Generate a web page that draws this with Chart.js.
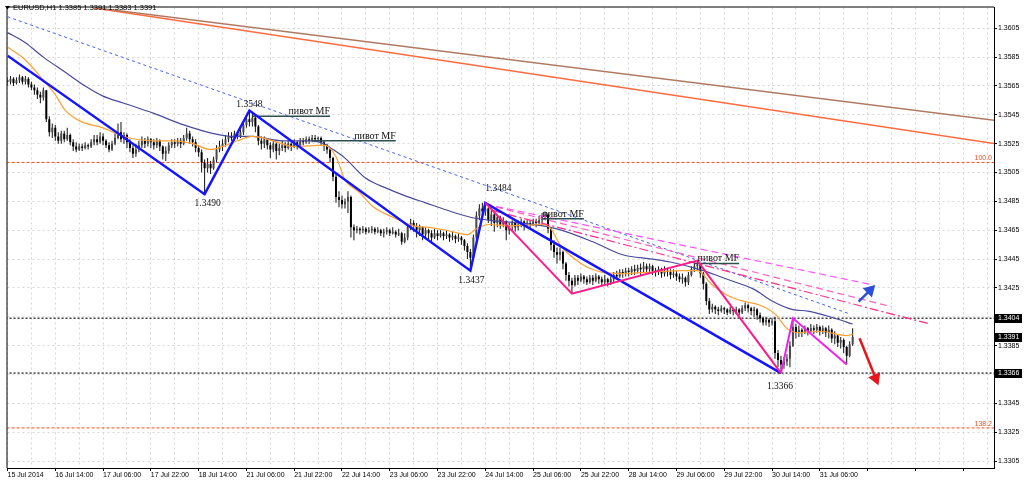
<!DOCTYPE html>
<html><head><meta charset="utf-8">
<script src="https://cdn.jsdelivr.net/npm/chart.js@4.4.1/dist/chart.umd.min.js"></script>
<style>html,body{margin:0;padding:0;background:#fff;}canvas{display:block;}</style>
</head><body>
<canvas id="c" width="1024" height="482"></canvas>
<script>
// ---- data (EURUSD H1, bar index 0 = 15 Jul 22:00) ----
const chartTitle = 'EURUSD,H1 1.3385 1.3391 1.3383 1.3391';
const xTickLabels = ['15 Jul 2014','16 Jul 14:00','17 Jul 06:00','17 Jul 22:00','18 Jul 14:00','21 Jul 06:00','21 Jul 22:00','22 Jul 14:00','23 Jul 06:00','23 Jul 22:00','24 Jul 14:00','25 Jul 06:00','25 Jul 22:00','28 Jul 14:00','29 Jul 06:00','29 Jul 22:00','30 Jul 14:00','31 Jul 06:00'];
const yTickValues = [1.3305,1.3325,1.3345,1.3365,1.3385,1.3405,1.3425,1.3445,1.3465,1.3485,1.3505,1.3525,1.3545,1.3565,1.3585,1.3605];

const opens = [
1.3569,1.3568,1.3570,1.3567,1.3569,1.3571,1.3568,1.3570,1.3566,1.3564,
1.3562,1.3559,1.3557,1.3562,1.3542,1.3533,1.3536,1.3530,1.3527,1.3532,
1.3528,1.3531,1.3526,1.3523,1.3521,1.3523,1.3522,1.3524,1.3523,1.3526,
1.3528,1.3526,1.3530,1.3527,1.3524,1.3521,1.3525,1.3529,1.3533,1.3528,
1.3531,1.3526,1.3522,1.3518,1.3521,1.3524,1.3527,1.3525,1.3528,1.3526,
1.3524,1.3527,1.3523,1.3518,1.3520,1.3524,1.3526,1.3525,1.3527,1.3525,
1.3529,1.3532,1.3528,1.3526,1.3522,1.3519,1.3512,1.3508,1.3511,1.3508,
1.3514,1.3521,1.3523,1.3525,1.3528,1.3530,1.3529,1.3532,1.3530,1.3533,
1.3538,1.3542,1.3540,1.3543,1.3537,1.3527,1.3525,1.3528,1.3524,1.3521,
1.3525,1.3520,1.3522,1.3524,1.3522,1.3525,1.3523,1.3526,1.3524,1.3527,
1.3526,1.3528,1.3527,1.3529,1.3528,1.3529,1.3526,1.3524,1.3521,1.3515,
1.3502,1.3488,1.3486,1.3483,1.3485,1.3488,1.3467,1.3465,1.3466,1.3465,
1.3466,1.3464,1.3465,1.3466,1.3464,1.3465,1.3463,1.3464,1.3465,1.3463,
1.3464,1.3462,1.3463,1.3457,1.3460,1.3467,1.3470,1.3468,1.3465,1.3467,
1.3462,1.3465,1.3463,1.3460,1.3463,1.3461,1.3463,1.3461,1.3462,1.3460,
1.3461,1.3459,1.3460,1.3458,1.3454,1.3450,1.3446,1.3460,1.3475,1.3480,
1.3478,1.3480,1.3472,1.3476,1.3470,1.3474,1.3469,1.3471,1.3465,1.3468,
1.3470,1.3467,1.3469,1.3471,1.3468,1.3470,1.3469,1.3471,1.3470,1.3472,
1.3475,1.3476,1.3466,1.3455,1.3450,1.3448,1.3450,1.3442,1.3434,1.3430,
1.3427,1.3432,1.3430,1.3433,1.3431,1.3429,1.3432,1.3430,1.3433,1.3431,
1.3429,1.3431,1.3429,1.3431,1.3434,1.3433,1.3436,1.3435,1.3437,1.3436,
1.3438,1.3437,1.3439,1.3438,1.3440,1.3438,1.3440,1.3437,1.3436,1.3438,
1.3435,1.3437,1.3436,1.3434,1.3435,1.3433,1.3431,1.3432,1.3429,1.3434,
1.3438,1.3440,1.3441,1.3435,1.3428,1.3416,1.3410,1.3412,1.3410,1.3409,
1.3411,1.3410,1.3408,1.3410,1.3409,1.3410,1.3408,1.3411,1.3413,1.3411,
1.3409,1.3410,1.3406,1.3404,1.3401,1.3403,1.3401,1.3402,1.3380,1.3375,
1.3372,1.3374,1.3376,1.3385,1.3398,1.3394,1.3396,1.3394,1.3397,1.3395,
1.3397,1.3396,1.3398,1.3395,1.3397,1.3394,1.3396,1.3390,1.3392,1.3387,
1.3389,1.3384,1.3378,1.3386];
const highs = [
1.3571,1.3572,1.3571,1.3571,1.3573,1.3572,1.3572,1.3571,1.3568,1.3566,
1.3564,1.3561,1.3564,1.3562,1.3544,1.3539,1.3538,1.3533,1.3534,1.3534,
1.3536,1.3532,1.3528,1.3526,1.3525,1.3525,1.3526,1.3525,1.3528,1.3531,
1.3531,1.3533,1.3532,1.3528,1.3526,1.3527,1.3532,1.3539,1.3540,1.3533,
1.3532,1.3528,1.3524,1.3525,1.3527,1.3530,1.3529,1.3530,1.3529,1.3528,
1.3529,1.3528,1.3524,1.3523,1.3526,1.3528,1.3528,1.3529,1.3529,1.3531,
1.3536,1.3534,1.3530,1.3528,1.3524,1.3521,1.3514,1.3515,1.3513,1.3516,
1.3524,1.3527,1.3528,1.3531,1.3533,1.3533,1.3534,1.3533,1.3535,1.3540,
1.3545,1.3548,1.3546,1.3545,1.3538,1.3530,1.3530,1.3529,1.3526,1.3527,
1.3526,1.3525,1.3527,1.3526,1.3527,1.3526,1.3528,1.3527,1.3529,1.3529,
1.3530,1.3530,1.3531,1.3531,1.3530,1.3530,1.3527,1.3525,1.3522,1.3516,
1.3504,1.3492,1.3489,1.3487,1.3492,1.3489,1.3469,1.3468,1.3467,1.3468,
1.3467,1.3467,1.3468,1.3467,1.3467,1.3466,1.3466,1.3467,1.3466,1.3467,
1.3465,1.3466,1.3464,1.3463,1.3469,1.3473,1.3472,1.3470,1.3469,1.3468,
1.3467,1.3466,1.3465,1.3466,1.3465,1.3465,1.3464,1.3465,1.3463,1.3464,
1.3462,1.3463,1.3461,1.3459,1.3456,1.3452,1.3462,1.3478,1.3483,1.3484,
1.3484,1.3481,1.3479,1.3478,1.3476,1.3475,1.3474,1.3472,1.3470,1.3472,
1.3471,1.3472,1.3473,1.3472,1.3472,1.3472,1.3473,1.3473,1.3475,1.3477,
1.3478,1.3477,1.3467,1.3458,1.3453,1.3453,1.3451,1.3443,1.3436,1.3432,
1.3434,1.3434,1.3435,1.3434,1.3433,1.3434,1.3434,1.3435,1.3434,1.3433,
1.3434,1.3432,1.3433,1.3436,1.3437,1.3438,1.3438,1.3439,1.3439,1.3440,
1.3441,1.3441,1.3442,1.3443,1.3442,1.3442,1.3441,1.3439,1.3440,1.3439,
1.3440,1.3439,1.3438,1.3438,1.3437,1.3435,1.3435,1.3433,1.3436,1.3440,
1.3443,1.3444,1.3442,1.3436,1.3429,1.3418,1.3414,1.3413,1.3412,1.3413,
1.3412,1.3411,1.3412,1.3411,1.3412,1.3411,1.3413,1.3415,1.3414,1.3412,
1.3412,1.3411,1.3408,1.3405,1.3405,1.3404,1.3404,1.3405,1.3382,1.3378,
1.3377,1.3379,1.3388,1.3404,1.3400,1.3399,1.3397,1.3399,1.3398,1.3400,
1.3399,1.3400,1.3399,1.3399,1.3398,1.3399,1.3397,1.3395,1.3393,1.3391,
1.3390,1.3385,1.3388,1.3397];
const lows = [
1.3565,1.3566,1.3565,1.3566,1.3567,1.3566,1.3566,1.3564,1.3562,1.3559,
1.3556,1.3553,1.3555,1.3540,1.3530,1.3529,1.3527,1.3525,1.3525,1.3526,
1.3527,1.3524,1.3520,1.3519,1.3520,1.3520,1.3521,1.3521,1.3522,1.3524,
1.3524,1.3525,1.3524,1.3522,1.3519,1.3520,1.3524,1.3528,1.3526,1.3525,
1.3522,1.3519,1.3515,1.3516,1.3519,1.3522,1.3522,1.3523,1.3522,1.3521,
1.3522,1.3520,1.3514,1.3513,1.3518,1.3522,1.3522,1.3523,1.3522,1.3524,
1.3527,1.3525,1.3523,1.3519,1.3516,1.3505,1.3490,1.3505,1.3504,1.3507,
1.3512,1.3519,1.3520,1.3523,1.3526,1.3527,1.3527,1.3528,1.3529,1.3531,
1.3536,1.3537,1.3537,1.3533,1.3524,1.3521,1.3522,1.3521,1.3515,1.3519,
1.3514,1.3517,1.3520,1.3519,1.3521,1.3520,1.3522,1.3521,1.3523,1.3524,
1.3525,1.3525,1.3526,1.3526,1.3526,1.3524,1.3520,1.3518,1.3512,1.3499,
1.3484,1.3481,1.3480,1.3480,1.3477,1.3460,1.3458,1.3463,1.3462,1.3463,
1.3462,1.3463,1.3463,1.3462,1.3463,1.3461,1.3460,1.3462,1.3461,1.3462,
1.3460,1.3461,1.3455,1.3456,1.3458,1.3465,1.3464,1.3460,1.3461,1.3458,
1.3460,1.3459,1.3456,1.3459,1.3458,1.3460,1.3458,1.3459,1.3457,1.3458,
1.3456,1.3457,1.3455,1.3451,1.3445,1.3437,1.3445,1.3458,1.3472,1.3474,
1.3475,1.3470,1.3468,1.3464,1.3467,1.3466,1.3467,1.3458,1.3462,1.3465,
1.3464,1.3465,1.3467,1.3465,1.3467,1.3466,1.3468,1.3467,1.3469,1.3470,
1.3472,1.3463,1.3451,1.3446,1.3442,1.3444,1.3438,1.3430,1.3426,1.3421,
1.3426,1.3427,1.3429,1.3428,1.3427,1.3428,1.3427,1.3429,1.3428,1.3426,
1.3427,1.3426,1.3427,1.3429,1.3431,1.3432,1.3432,1.3433,1.3433,1.3434,
1.3434,1.3435,1.3434,1.3436,1.3435,1.3436,1.3434,1.3433,1.3434,1.3432,
1.3433,1.3433,1.3431,1.3432,1.3430,1.3429,1.3428,1.3426,1.3427,1.3433,
1.3436,1.3437,1.3432,1.3424,1.3413,1.3407,1.3408,1.3407,1.3406,1.3408,
1.3407,1.3406,1.3407,1.3406,1.3407,1.3406,1.3407,1.3409,1.3408,1.3406,
1.3405,1.3403,1.3401,1.3399,1.3399,1.3398,1.3399,1.3376,1.3370,1.3366,
1.3369,1.3371,1.3370,1.3384,1.3390,1.3391,1.3391,1.3393,1.3392,1.3394,
1.3393,1.3394,1.3392,1.3393,1.3391,1.3390,1.3387,1.3386,1.3384,1.3383,
1.3380,1.3372,1.3377,1.3385];
const closes = [
1.3568,1.3570,1.3567,1.3569,1.3571,1.3568,1.3570,1.3566,1.3564,1.3562,
1.3559,1.3557,1.3562,1.3542,1.3533,1.3536,1.3530,1.3527,1.3532,1.3528,
1.3531,1.3526,1.3523,1.3521,1.3523,1.3522,1.3524,1.3523,1.3526,1.3528,
1.3526,1.3530,1.3527,1.3524,1.3521,1.3525,1.3529,1.3533,1.3528,1.3531,
1.3526,1.3522,1.3518,1.3521,1.3524,1.3527,1.3525,1.3528,1.3526,1.3524,
1.3527,1.3523,1.3518,1.3520,1.3524,1.3526,1.3525,1.3527,1.3525,1.3529,
1.3532,1.3528,1.3526,1.3522,1.3519,1.3512,1.3508,1.3511,1.3508,1.3514,
1.3521,1.3523,1.3525,1.3528,1.3530,1.3529,1.3532,1.3530,1.3533,1.3538,
1.3542,1.3540,1.3543,1.3537,1.3527,1.3525,1.3528,1.3524,1.3521,1.3525,
1.3520,1.3522,1.3524,1.3522,1.3525,1.3523,1.3526,1.3524,1.3527,1.3526,
1.3528,1.3527,1.3529,1.3528,1.3529,1.3526,1.3524,1.3521,1.3515,1.3502,
1.3488,1.3486,1.3483,1.3485,1.3488,1.3467,1.3465,1.3466,1.3465,1.3466,
1.3464,1.3465,1.3466,1.3464,1.3465,1.3463,1.3464,1.3465,1.3463,1.3464,
1.3462,1.3463,1.3457,1.3460,1.3467,1.3470,1.3468,1.3465,1.3467,1.3462,
1.3465,1.3463,1.3460,1.3463,1.3461,1.3463,1.3461,1.3462,1.3460,1.3461,
1.3459,1.3460,1.3458,1.3454,1.3450,1.3446,1.3460,1.3475,1.3480,1.3478,
1.3480,1.3472,1.3476,1.3470,1.3474,1.3469,1.3471,1.3465,1.3468,1.3470,
1.3467,1.3469,1.3471,1.3468,1.3470,1.3469,1.3471,1.3470,1.3472,1.3475,
1.3476,1.3466,1.3455,1.3450,1.3448,1.3450,1.3442,1.3434,1.3430,1.3427,
1.3432,1.3430,1.3433,1.3431,1.3429,1.3432,1.3430,1.3433,1.3431,1.3429,
1.3431,1.3429,1.3431,1.3434,1.3433,1.3436,1.3435,1.3437,1.3436,1.3438,
1.3437,1.3439,1.3438,1.3440,1.3438,1.3440,1.3437,1.3436,1.3438,1.3435,
1.3437,1.3436,1.3434,1.3435,1.3433,1.3431,1.3432,1.3429,1.3434,1.3438,
1.3440,1.3441,1.3435,1.3428,1.3416,1.3410,1.3412,1.3410,1.3409,1.3411,
1.3410,1.3408,1.3410,1.3409,1.3410,1.3408,1.3411,1.3413,1.3411,1.3409,
1.3410,1.3406,1.3404,1.3401,1.3403,1.3401,1.3402,1.3380,1.3375,1.3372,
1.3374,1.3376,1.3385,1.3398,1.3394,1.3396,1.3394,1.3397,1.3395,1.3397,
1.3396,1.3398,1.3395,1.3397,1.3394,1.3396,1.3390,1.3392,1.3387,1.3389,
1.3384,1.3378,1.3386,1.3391];

// moving averages, sampled along the drawn curves
const orangeMaIdx = [0,6,12,16,19,24,32,39,49,56,62,68,72,77,82,89,96,106,110,113,118,122,129,136,141,147,154,157,161,168,179,182,185,192,199,206,216,226,231,236,241,246,252,257,261,265,272,281,283];
const orangeMaPx = [1.3592,1.3583,1.3569,1.3559,1.3549,1.3541,1.3536,1.3530,1.3527,1.3527,1.3525,1.3521,1.3523,1.3527,1.3530,1.3527,1.3523,1.3524,1.3516,1.3500,1.3491,1.3482,1.3474,1.3468,1.3467,1.3465,1.3462,1.3466,1.3469,1.3468,1.3469,1.3466,1.3455,1.3442,1.3436,1.3435,1.3436,1.3437,1.3437,1.3427,1.3420,1.3416,1.3413,1.3407,1.3397,1.3394,1.3395,1.3392,1.3393];
const navyMaIdx = [0,6,12,19,26,32,39,49,59,69,76,82,92,102,106,109,113,120,127,133,140,147,155,161,176,184,196,206,216,222,233,241,250,256,263,268,277,283];
const navyMaPx = [1.3602,1.3595,1.3585,1.3575,1.3565,1.3558,1.3553,1.3546,1.3538,1.3532,1.3530,1.3530,1.3527,1.3527,1.3525,1.3521,1.3515,1.3501,1.3494,1.3489,1.3484,1.3479,1.3474,1.3472,1.3469,1.3466,1.3457,1.3448,1.3445,1.3443,1.3437,1.3431,1.3424,1.3416,1.3410,1.3409,1.3404,1.3400];

// zigzags
const zigBlueIdx = [0,66,81,155,160,259];
const zigBluePx = [1.3586,1.3490,1.3548,1.3437,1.3484,1.3366];
const zigPinkIdx = [160,189,231,259];
const zigPinkPx = [1.3484,1.3421,1.3444,1.3366];
const zigMagIdx = [259,263,281];
const zigMagPx = [1.3366,1.3404,1.3372];

// trend lines
const brownIdx = [30,331], brownPx = [1.3619,1.3541];
const redTrendIdx = [29,331], redTrendPx = [1.3619,1.3525];
const blueDotIdx = [0,282], blueDotPx = [1.3613,1.3407];
const pinkDash1Idx = [160,290], pinkDash1Px = [1.3483,1.3427];
const pinkDash2Idx = [160,296], pinkDash2Px = [1.3483,1.3412];
const pinkDash3Idx = [162,309], pinkDash3Px = [1.3479,1.3400];

// horizontal levels
const fibLevels = [1.3512,1.3328];
const fibLabels = ['100.0','138.2'];
const hLevels = [1.3404,1.3366];
const axisMarks = [1.3404,1.3391,1.3366];

// "пивот MF" levels
const pivotMfLabel = 'пивот MF';
const pivotMfStart = [82,102,179,230];
const pivotMfEnd = [108,130,193,245];
const pivotMfPx = [1.3544,1.3527,1.3473,1.3442];

// pivot price labels
const pivotLabelText = ['1.3548','1.3490','1.3484','1.3437','1.3366'];
const pivotLabelIdx = [81,66,160,155,259];
const pivotLabelPx = [1.3548,1.3490,1.3484,1.3437,1.3366];

// arrows
const upArrowIdx = [285,288.8], upArrowPx = [1.34155,1.34234];
const downArrowIdx = [285.3,290.7], downArrowPx = [1.33901,1.33624];

// ---- build ----
const pts = (xs, ys) => xs.map((x, k) => ({x: x, y: ys[k]}));
const wickData = closes.map((c, i) => ({x: i, y: [lows[i], highs[i]]}));
const bodyData = closes.map((c, i) => ({x: i, y: [opens[i], c]}));

function lineDs(data, color, width, dash, order, extra) {
  return Object.assign({type: 'line', data: data, borderColor: color, borderWidth: width,
    borderDash: dash || [], pointRadius: 0, pointHoverRadius: 0, fill: false, tension: 0, order: order}, extra || {});
}

const datasets = [];
fibLevels.forEach(v => datasets.push(lineDs(pts([-2, 332], [v, v]), '#ff4a1c', 1, [3, 2], 20)));
hLevels.forEach(v => datasets.push(lineDs(pts([-2, 332], [v, v]), '#333333', 1.4, [2, 2], 20)));
datasets.push({type: 'bar', data: wickData, backgroundColor: '#111', borderWidth: 0, barThickness: 1,
  grouped: false, inflateAmount: 0, order: 12});
datasets.push({type: 'bar', data: bodyData, borderWidth: 0, barThickness: 2, minBarLength: 1,
  grouped: false, inflateAmount: 0, order: 11,
  backgroundColor: ctx => closes[ctx.dataIndex] >= opens[ctx.dataIndex] ? '#4a4a4a' : '#000000'});
datasets.push(lineDs(pts(navyMaIdx, navyMaPx), '#4a4a9c', 1.2, [], 9, {cubicInterpolationMode: 'monotone'}));
datasets.push(lineDs(pts(orangeMaIdx, orangeMaPx), '#ffa033', 1.2, [], 8, {cubicInterpolationMode: 'monotone'}));
datasets.push(lineDs(pts(brownIdx, brownPx), '#b07a62', 1.5, [], 7));
datasets.push(lineDs(pts(redTrendIdx, redTrendPx), '#ff6a40', 1.5, [], 7));
datasets.push(lineDs(pts(blueDotIdx, blueDotPx), '#4060ff', 1, [3, 3], 6));
datasets.push(lineDs(pts(pinkDash1Idx, pinkDash1Px), '#ff50ff', 1.2, [7, 4], 5));
datasets.push(lineDs(pts(pinkDash2Idx, pinkDash2Px), '#ff5fbf', 1.2, [7, 4], 5));
datasets.push(lineDs(pts(pinkDash3Idx, pinkDash3Px), '#ff2d8a', 1.2, [9, 3, 2, 3], 5));
pivotMfPx.forEach((v, k) => datasets.push(lineDs(pts([pivotMfStart[k], pivotMfEnd[k]], [v, v]), '#2f4f4f', 1.6, [], 4)));
datasets.push(lineDs(pts(zigBlueIdx, zigBluePx), '#1414ff', 2.5, [], 3));
datasets.push(lineDs(pts(zigPinkIdx, zigPinkPx), '#ff1a8c', 2, [], 2));
datasets.push(lineDs(pts(zigMagIdx, zigMagPx), '#f020f0', 2, [], 2));
datasets.push(lineDs(pts(upArrowIdx, upArrowPx), '#2b4fd8', 2.5, [], 1,
  {pointRadius: [0, 5], pointStyle: 'triangle', pointRotation: 45, pointBackgroundColor: '#2b4fd8', pointBorderColor: '#2b4fd8'}));
datasets.push(lineDs(pts(downArrowIdx, downArrowPx), '#e8141c', 2.5, [], 1,
  {pointRadius: [0, 5], pointStyle: 'triangle', pointRotation: 158, pointBackgroundColor: '#e8141c', pointBorderColor: '#e8141c'}));

const pivotLabelOffsets = [[0, -6], [3, 9], [13, -14], [1, 10], [-1, 13]];
const AX_FONT = '"Liberation Sans", Arial, sans-serif';

const overlay = {
  id: 'overlay',
  beforeDraw(chart) {
    const ctx = chart.ctx;
    ctx.save(); ctx.fillStyle = '#fff'; ctx.fillRect(0, 0, chart.width, chart.height); ctx.restore();
  },
  afterDraw(chart) {
    const ctx = chart.ctx, a = chart.chartArea, xs = chart.scales.x, ys = chart.scales.y;
    ctx.save();
    ctx.strokeStyle = '#000'; ctx.lineWidth = 1; ctx.setLineDash([]);
    ctx.beginPath();
    ctx.moveTo(a.left - 0.5, a.bottom); ctx.lineTo(a.left - 0.5, a.top - 0.5); ctx.lineTo(a.right, a.top - 0.5);
    ctx.stroke();
    // fib labels
    ctx.font = '7px ' + AX_FONT; ctx.fillStyle = '#ff4a1c'; ctx.textAlign = 'right'; ctx.textBaseline = 'alphabetic';
    fibLevels.forEach((v, k) => ctx.fillText(fibLabels[k], a.right - 2, ys.getPixelForValue(v) - 2));
    // pivot price labels
    ctx.font = '9.5px "Liberation Serif", serif'; ctx.fillStyle = '#111'; ctx.textAlign = 'center'; ctx.textBaseline = 'middle';
    pivotLabelText.forEach((t, k) => {
      const o = pivotLabelOffsets[k];
      ctx.fillText(t, xs.getPixelForValue(pivotLabelIdx[k]) + o[0], ys.getPixelForValue(pivotLabelPx[k]) + o[1]);
    });
    // пивот MF labels
    ctx.font = '10px "Liberation Serif", serif'; ctx.textAlign = 'right'; ctx.textBaseline = 'alphabetic';
    pivotMfPx.forEach((v, k) => ctx.fillText(pivotMfLabel, xs.getPixelForValue(pivotMfEnd[k]), ys.getPixelForValue(v) - 2));
    // axis price boxes
    ctx.font = '7px ' + AX_FONT; ctx.textAlign = 'left'; ctx.textBaseline = 'middle';
    axisMarks.forEach(v => {
      const y = Math.round(ys.getPixelForValue(v));
      ctx.fillStyle = '#000'; ctx.fillRect(a.right + 1, y - 4, 27, 9);
      ctx.fillStyle = '#fff'; ctx.fillText(v.toFixed(4), a.right + 4, y + 0.5);
    });
    // title
    ctx.fillStyle = '#000';
    ctx.beginPath(); ctx.moveTo(5, 6); ctx.lineTo(10, 6); ctx.lineTo(7.5, 9.5); ctx.closePath(); ctx.fill();
    ctx.font = '7.5px ' + AX_FONT; ctx.textAlign = 'left'; ctx.textBaseline = 'middle';
    ctx.fillText(chartTitle, 13, 8);
    ctx.restore();
  }
};

new Chart(document.getElementById('c'), {
  type: 'bar',
  data: {datasets: datasets},
  options: {
    responsive: false, animation: false, devicePixelRatio: 1, events: [],
    layout: {padding: {left: 3, top: 3, right: 0, bottom: 0}},
    plugins: {legend: {display: false}, tooltip: {enabled: false}, title: {display: false}},
    scales: {
      x: {
        type: 'linear', min: 0, max: 330.33, offset: false,
        grid: {offset: false, color: '#d6d6d6', lineWidth: 1, tickLength: 3,
          tickColor: c => (c.tick && c.tick.value % 16 === 0) ? '#000' : 'rgba(0,0,0,0)'},
        border: {display: true, color: '#000', width: 1, dash: [2, 3]},
        ticks: {autoSkip: false, maxRotation: 0, minRotation: 0, align: 'start', padding: 0, color: '#000',
          font: {family: AX_FONT, size: 7},
          callback: v => (v % 16 === 0 && v / 16 < xTickLabels.length) ? xTickLabels[v / 16] : ''},
        afterBuildTicks: s => { const t = []; for (let v = 0; v <= 328; v += 8) t.push({value: v}); s.ticks = t; },
        afterFit: s => { s.height = 14; s.paddingLeft = 0; s.paddingRight = 0; }
      },
      y: {
        type: 'linear', position: 'right', min: 1.33002, max: 1.36194, beginAtZero: false,
        grid: {color: '#d6d6d6', lineWidth: 1, tickLength: 3, tickColor: '#000'},
        border: {display: true, color: '#000', width: 1, dash: [2, 3]},
        ticks: {autoSkip: false, padding: 1, color: '#000', font: {family: AX_FONT, size: 7},
          callback: v => Number(v).toFixed(4)},
        afterBuildTicks: s => { s.ticks = yTickValues.map(v => ({value: v})); },
        afterFit: s => { s.width = 30; s.paddingTop = 0; s.paddingBottom = 0; }
      }
    }
  },
  plugins: [overlay]
});
</script>
</body></html>
